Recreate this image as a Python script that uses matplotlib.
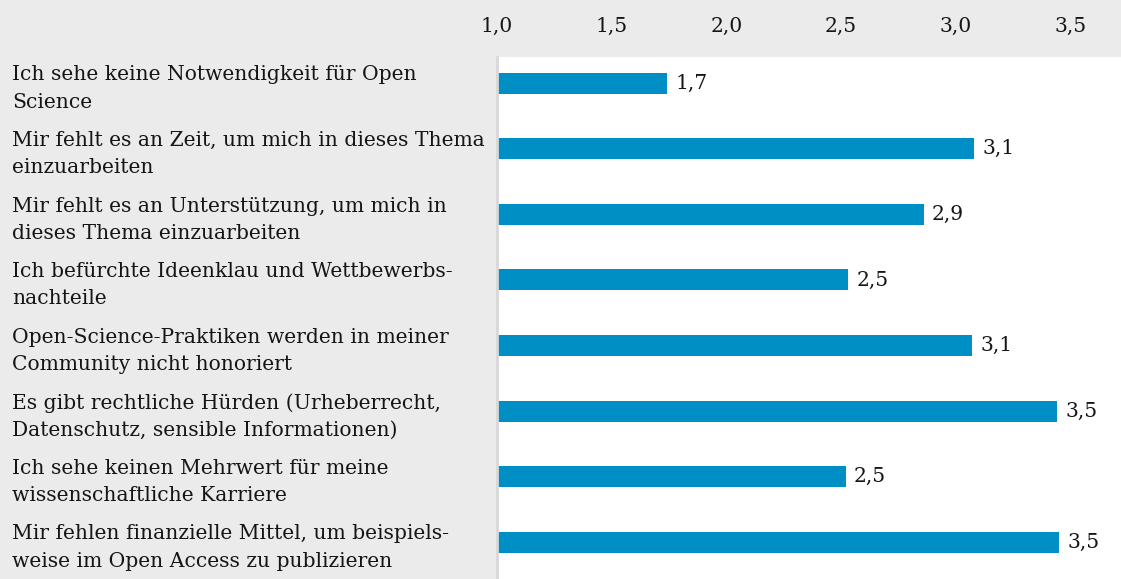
import matplotlib
matplotlib.use("Agg")
import matplotlib.pyplot as plt
import matplotlib.transforms as mtransforms

# Data
categories = [
    "Ich sehe keine Notwendigkeit für Open\nScience",
    "Mir fehlt es an Zeit, um mich in dieses Thema\neinzuarbeiten",
    "Mir fehlt es an Unterstützung, um mich in\ndieses Thema einzuarbeiten",
    "Ich befürchte Ideenklau und Wettbewerbs-\nnachteile",
    "Open-Science-Praktiken werden in meiner\nCommunity nicht honoriert",
    "Es gibt rechtliche Hürden (Urheberrecht,\nDatenschutz, sensible Informationen)",
    "Ich sehe keinen Mehrwert für meine\nwissenschaftliche Karriere",
    "Mir fehlen finanzielle Mittel, um beispiels-\nweise im Open Access zu publizieren",
]
values = [1.74, 3.08, 2.86, 2.53, 3.07, 3.44, 2.52, 3.45]
value_labels = ["1,7", "3,1", "2,9", "2,5", "3,1", "3,5", "2,5", "3,5"]
ticks = [1.0, 1.5, 2.0, 2.5, 3.0, 3.5]
tick_labels = ["1,0", "1,5", "2,0", "2,5", "3,0", "3,5"]

BG = "#ebebeb"
BAR = "#008fc4"
TXT = "#151515"
FONT = "DejaVu Serif"
FS = 14.6

W, H = 1121, 579
fig = plt.figure(figsize=(W / 100, H / 100), dpi=100, facecolor=BG)
ax = fig.add_axes([497 / W, 0, (W - 497) / W, (H - 57) / H])
ax.set_facecolor("white")

y = list(range(len(values)))
ax.barh(y, [v - 1.0 for v in values], left=1.0, height=0.32, color=BAR)

ax.set_xlim(1.0, 3.72)
ax.set_ylim(7.56, -0.4)

# value labels at bar ends
for i, (v, lab) in enumerate(zip(values, value_labels)):
    ax.annotate(lab, (v, i), xytext=(6, 0), textcoords="offset points",
                va="center", ha="left", fontsize=FS, family=FONT, color=TXT)

# ticks on top, labels only
ax.xaxis.tick_top()
ax.set_xticks(ticks)
ax.set_xticklabels(tick_labels, family=FONT, fontsize=FS, color=TXT)
ax.tick_params(axis="x", length=0, pad=15)
ax.set_yticks([])

for s in ["top", "right", "bottom"]:
    ax.spines[s].set_visible(False)
ax.spines["left"].set_color("#d8d8d8")
ax.spines["left"].set_linewidth(2)

# category labels in the grey area on the left
trans = mtransforms.blended_transform_factory(fig.transFigure, ax.transData)
for i, cat in enumerate(categories):
    ax.text(12 / W, i + 0.08, cat, transform=trans, fontsize=FS,
            family=FONT, color=TXT, va="center", ha="left",
            linespacing=1.55, clip_on=False)

fig.savefig("out.png", dpi=100, facecolor=BG)
